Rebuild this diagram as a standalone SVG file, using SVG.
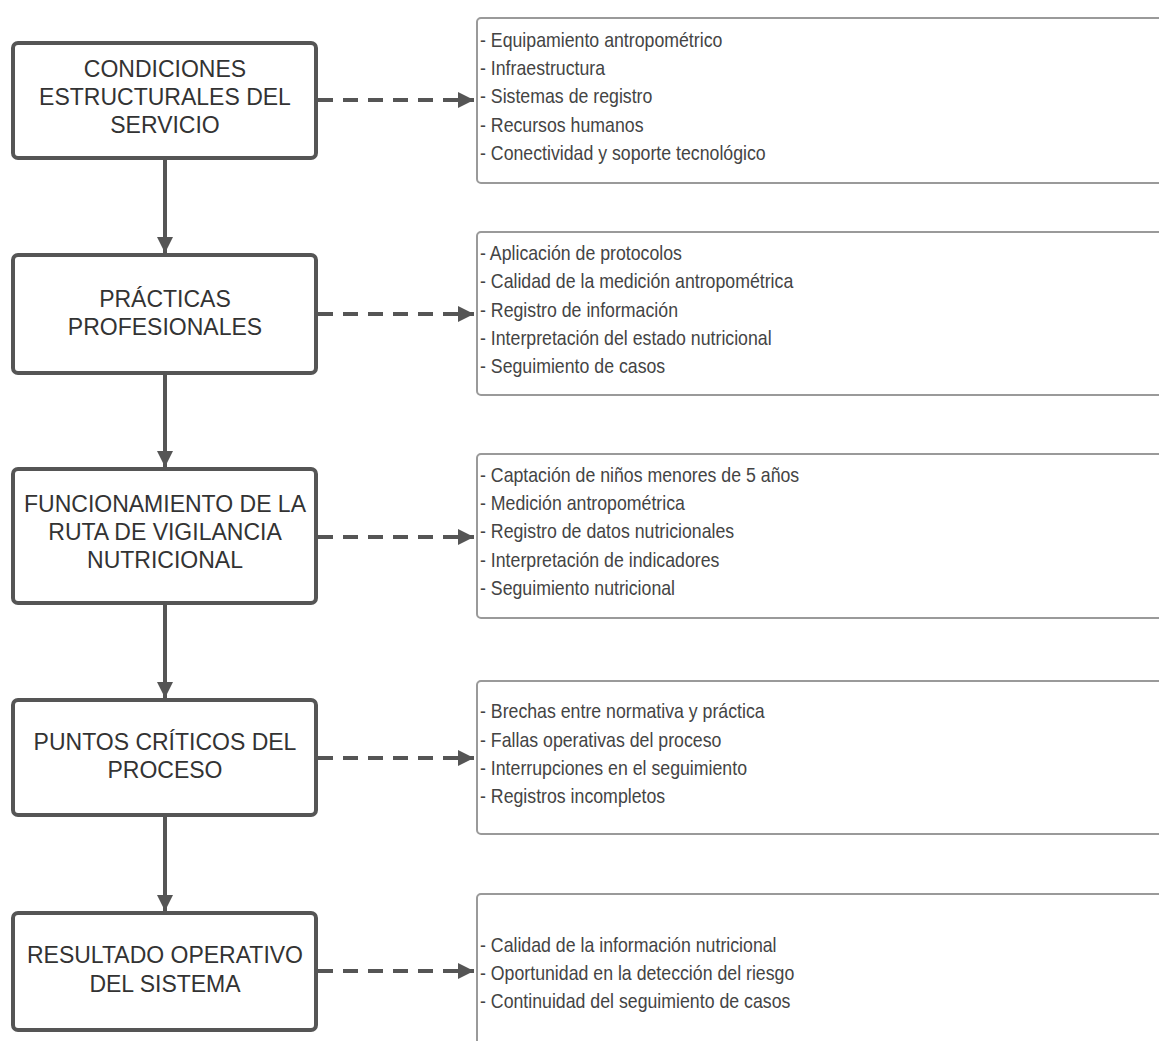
<svg xmlns="http://www.w3.org/2000/svg" width="1159" height="1041" viewBox="0 0 1159 1041">
<style>
.main{fill:#fff;stroke:#555;stroke-width:4}
.detail{fill:#fff;stroke:#9a9a9a;stroke-width:2}
.mt{font-family:"Liberation Sans",Arial,sans-serif;font-size:23px;fill:#333;text-anchor:middle}
.dt{font-family:"Liberation Sans",Arial,sans-serif;font-size:20.5px;fill:#444}
.solid{stroke:#555;stroke-width:4;fill:none}
.dash{stroke:#555;stroke-width:4;fill:none;stroke-dasharray:15 10}
</style>
<defs>
<marker id="ah" viewBox="0 0 10 10" refX="10" refY="5" markerWidth="5" markerHeight="4" markerUnits="strokeWidth" orient="auto">
<path d="M0,0 L10,5 L0,10 z" fill="#555"/>
</marker>
</defs>
<rect width="1159" height="1041" fill="#fff"/>

<g id="connectors">
<line class="solid" x1="165" y1="158" x2="165" y2="253" marker-end="url(#ah)"/>
<line class="solid" x1="165" y1="373" x2="165" y2="467" marker-end="url(#ah)"/>
<line class="solid" x1="165" y1="603" x2="165" y2="698" marker-end="url(#ah)"/>
<line class="solid" x1="165" y1="815" x2="165" y2="911" marker-end="url(#ah)"/>
<line class="dash" x1="318" y1="100" x2="474" y2="100" marker-end="url(#ah)"/>
<line class="dash" x1="318" y1="314" x2="474" y2="314" marker-end="url(#ah)"/>
<line class="dash" x1="318" y1="537" x2="474" y2="537" marker-end="url(#ah)"/>
<line class="dash" x1="318" y1="758" x2="474" y2="758" marker-end="url(#ah)"/>
<line class="dash" x1="318" y1="971" x2="474" y2="971" marker-end="url(#ah)"/>
</g>

<g id="n1">
<rect class="main" x="13" y="43" width="303" height="115" rx="5"/>
<text class="mt"><tspan x="165" y="77">CONDICIONES</tspan><tspan x="165" y="105">ESTRUCTURALES DEL</tspan><tspan x="165" y="133">SERVICIO</tspan></text>
</g>
<g id="n2">
<rect class="main" x="13" y="255" width="303" height="118" rx="5"/>
<text class="mt"><tspan x="165" y="307">PRÁCTICAS</tspan><tspan x="165" y="335">PROFESIONALES</tspan></text>
</g>
<g id="n3">
<rect class="main" x="13" y="469" width="303" height="134" rx="5"/>
<text class="mt"><tspan x="165" y="512">FUNCIONAMIENTO DE LA</tspan><tspan x="165" y="540">RUTA DE VIGILANCIA</tspan><tspan x="165" y="568">NUTRICIONAL</tspan></text>
</g>
<g id="n4">
<rect class="main" x="13" y="700" width="303" height="115" rx="5"/>
<text class="mt"><tspan x="165" y="750">PUNTOS CRÍTICOS DEL</tspan><tspan x="165" y="778">PROCESO</tspan></text>
</g>
<g id="n5">
<rect class="main" x="13" y="913" width="303" height="117" rx="5"/>
<text class="mt"><tspan x="165" y="963">RESULTADO OPERATIVO</tspan><tspan x="165" y="992">DEL SISTEMA</tspan></text>
</g>

<g id="d1">
<rect class="detail" x="477" y="18" width="700" height="165" rx="4"/>
<text class="dt" transform="translate(480 0) scale(0.865 1)"><tspan x="0" y="47">- Equipamiento antropométrico</tspan><tspan x="0" y="75">- Infraestructura</tspan><tspan x="0" y="103">- Sistemas de registro</tspan><tspan x="0" y="132">- Recursos humanos</tspan><tspan x="0" y="160">- Conectividad y soporte tecnológico</tspan></text>
</g>
<g id="d2">
<rect class="detail" x="477" y="232" width="700" height="163" rx="4"/>
<text class="dt" transform="translate(480 0) scale(0.865 1)"><tspan x="0" y="260">- Aplicación de protocolos</tspan><tspan x="0" y="288">- Calidad de la medición antropométrica</tspan><tspan x="0" y="317">- Registro de información</tspan><tspan x="0" y="345">- Interpretación del estado nutricional</tspan><tspan x="0" y="373">- Seguimiento de casos</tspan></text>
</g>
<g id="d3">
<rect class="detail" x="477" y="454" width="700" height="164" rx="4"/>
<text class="dt" transform="translate(480 0) scale(0.865 1)"><tspan x="0" y="482">- Captación de niños menores de 5 años</tspan><tspan x="0" y="510">- Medición antropométrica</tspan><tspan x="0" y="538">- Registro de datos nutricionales</tspan><tspan x="0" y="567">- Interpretación de indicadores</tspan><tspan x="0" y="595">- Seguimiento nutricional</tspan></text>
</g>
<g id="d4">
<rect class="detail" x="477" y="681" width="700" height="153" rx="4"/>
<text class="dt" transform="translate(480 0) scale(0.865 1)"><tspan x="0" y="718">- Brechas entre normativa y práctica</tspan><tspan x="0" y="747">- Fallas operativas del proceso</tspan><tspan x="0" y="775">- Interrupciones en el seguimiento</tspan><tspan x="0" y="803">- Registros incompletos</tspan></text>
</g>
<g id="d5">
<rect class="detail" x="477" y="894" width="700" height="170" rx="4"/>
<text class="dt" transform="translate(480 0) scale(0.865 1)"><tspan x="0" y="952">- Calidad de la información nutricional</tspan><tspan x="0" y="980">- Oportunidad en la detección del riesgo</tspan><tspan x="0" y="1008">- Continuidad del seguimiento de casos</tspan></text>
</g>
</svg>
